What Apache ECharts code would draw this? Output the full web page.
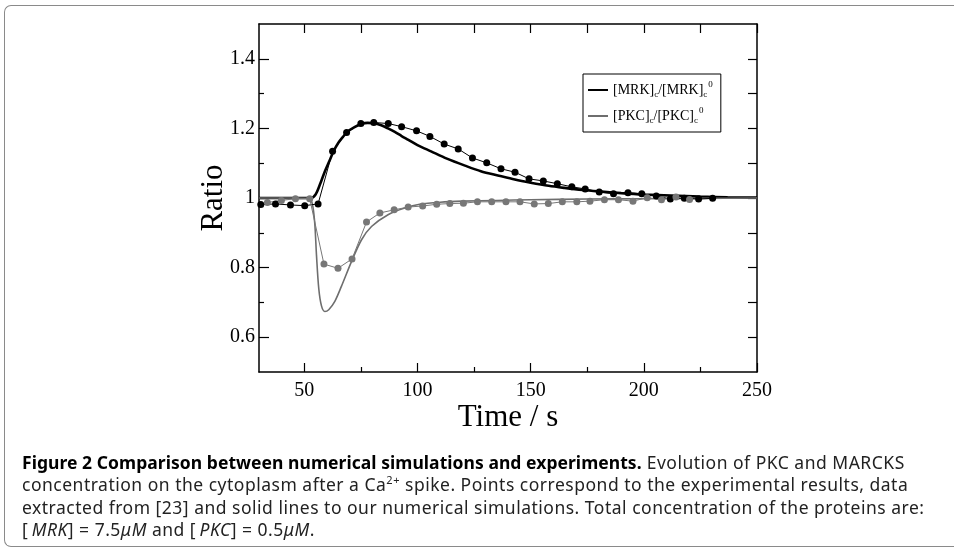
<!DOCTYPE html>
<html>
<head>
<meta charset="utf-8">
<script src="https://cdn.jsdelivr.net/npm/echarts@6/dist/echarts.min.js"></script>
<style>
html,body{margin:0;padding:0;background:#fff;overflow:hidden;}
#wrap{position:relative;width:954px;height:552px;overflow:hidden;}
#frame{position:absolute;left:4px;top:5px;width:1200px;height:542px;border:1.5px solid #8a8a8a;border-right:none;border-radius:7px 0 0 7px;box-sizing:border-box;}
#chart{position:absolute;left:0;top:0;width:954px;height:552px;}
#cap{position:absolute;left:22px;top:451px;width:930px;font-family:"Noto Sans",sans-serif;font-size:17.5px;letter-spacing:0.5px;line-height:22.3px;color:#222;white-space:nowrap;}
#cap b{color:#000;letter-spacing:0.05px;}
#cap sup{font-size:11px;line-height:0;vertical-align:7px;}
</style>
</head>
<body>
<div id="wrap">
<div id="frame"></div>
<div id="chart"></div>
<div id="cap"><b>Figure 2 Comparison between numerical simulations and experiments.</b> Evolution of PKC and MARCKS<br>concentration on the cytoplasm after a Ca<sup>2+</sup> spike. Points correspond to the experimental results, data<br>extracted from [23] and solid lines to our numerical simulations. Total concentration of the proteins are:<br>[&#8201;<i>MRK</i>] = 7.5<i>μM</i> and [&#8201;<i>PKC</i>] = 0.5<i>μM</i>.</div>
</div>
<script>
// ---- data ----
const mrkExpT = [30.8,37.3,43.9,50.2,56.1,62.5,68.7,75.0,80.7,87.1,93.0,99.6,105.5,111.8,118.0,124.3,130.6,136.9,143.1,149.3,155.6,161.8,168.2,174.1,180.3,186.6,193.0,199.1,205.5,211.7,217.9,224.2,230.4];
const mrkExpV = [0.981,0.983,0.980,0.978,0.983,1.134,1.188,1.214,1.217,1.214,1.205,1.193,1.177,1.155,1.141,1.115,1.101,1.084,1.074,1.055,1.049,1.041,1.032,1.026,1.017,1.012,1.015,1.012,1.006,0.997,0.999,0.997,0.999];
const pkcExpT = [33.7,39.9,46.1,52.4,58.7,64.9,71.1,77.5,83.4,89.7,95.9,102.3,108.5,114.3,120.3,126.5,132.8,139.1,145.3,151.6,157.8,164.0,170.4,176.2,182.6,188.8,195.2,201.5,207.8,214.2,220.2];
const pkcExpV = [0.987,0.993,0.998,0.998,0.810,0.798,0.825,0.931,0.957,0.966,0.974,0.977,0.982,0.984,0.985,0.989,0.989,0.989,0.989,0.983,0.984,0.989,0.989,0.991,0.995,0.995,0.991,1.001,0.995,1.003,0.996];
const mrkSimT = [30,40,50,53,55,57,59,61,63,65,67,69,72,75,78,81,84,87,90,93,96,100,106,113,121,128,136,143,150,158,165,173,180,190,200,212,225,237,250];
const mrkSimV = [1.0,1.0,1.0,1.0,1.01,1.04,1.075,1.105,1.135,1.158,1.175,1.19,1.203,1.212,1.216,1.215,1.209,1.200,1.19,1.178,1.167,1.152,1.134,1.113,1.093,1.077,1.064,1.053,1.044,1.035,1.029,1.023,1.019,1.014,1.010,1.007,1.004,1.002,1.001];
const pkcSimT = [30,45,52,53.5,54.6,55.4,56.4,57.6,59.1,60.8,63.5,66.4,70.9,75.3,79.7,87,94.4,101,110,120,135,150,175,200,225,250];
const pkcSimV = [1.0,1.0,0.999,0.985,0.93,0.835,0.74,0.69,0.674,0.679,0.703,0.746,0.818,0.88,0.918,0.952,0.971,0.982,0.988,0.991,0.993,0.995,0.997,0.998,0.999,1.0];
const xMajor = [50,100,150,200,250];
const xMinor = [75,125,175,225];
const xTop = [50,75,100,125,150,175,200,225,250];
const yMajor = [0.6,0.8,1.0,1.2,1.4];
const yMinor = [0.7,0.9,1.1,1.3];
const yRight = [0.6,0.7,0.8,0.9,1.0,1.1,1.2,1.3,1.4];
const xRange = [30,250];
const yRange = [0.5,1.5];
const nameMrk = 'MRK';
const namePkc = 'PKC';

const zip = (a,b) => a.map((t,i)=>[t,b[i]]);
const serif = 'Liberation Serif';
const chart = echarts.init(document.getElementById('chart'), null, {renderer:'canvas'});
const lineCol = '#000';
const axisBase = (pos, ticks, len, showLine, labels) => ({
  type:'value', position:pos, min:xRange[0], max:xRange[1],
  axisLine:{show:showLine, onZero:false, lineStyle:{color:lineCol,width:1.5}},
  axisTick:{show:true, inside:true, length:len, customValues:ticks, lineStyle:{color:lineCol,width:1.2}},
  axisLabel: labels ? {show:true, customValues:ticks, color:'#000', fontFamily:serif, fontSize:20, margin:9} : {show:false},
  splitLine:{show:false}
});
const xAxes = [
  Object.assign(axisBase('bottom', xMajor, 9, true, true), {name:'Time / s', nameLocation:'middle', nameGap:30, nameMoveOverlap:false, nameTextStyle:{color:'#000', fontFamily:serif, fontSize:31}}),
  axisBase('bottom', xMinor, 5, false, false),
  axisBase('top', xTop, 9, true, false)
];
const yBase = (pos, ticks, len, showLine, labels) => ({
  type:'value', position:pos, min:yRange[0], max:yRange[1],
  axisLine:{show:showLine, onZero:false, lineStyle:{color:lineCol,width:1.5}},
  axisTick:{show:true, inside:true, length:len, customValues:ticks, lineStyle:{color:lineCol,width:1.2}},
  axisLabel: labels ? {show:true, customValues:ticks, color:'#000', fontFamily:serif, fontSize:20, margin:4} : {show:false},
  splitLine:{show:false}
});
const yAxes = [
  Object.assign(yBase('left', yMajor, 10, true, true), {name:'Ratio', nameLocation:'middle', nameGap:30, nameMoveOverlap:false, nameTextStyle:{color:'#000', fontFamily:serif, fontSize:31}}),
  yBase('left', yMinor, 5, false, false),
  yBase('right', yRight, 9, true, false)
];
chart.setOption({
  animation:false,
  grid:{left:259, top:24, right:197, bottom:180, containLabel:false},
  xAxis:xAxes,
  yAxis:yAxes,
  legend:{
    data:[{name:nameMrk, icon:'rect'}, {name:namePkc, icon:'rect'}],
    orient:'vertical', left:583, top:74,
    padding:[5,8,5,5], itemGap:4, itemWidth:20, itemHeight:2,
    borderColor:'#000', borderWidth:1, backgroundColor:'#fff', borderRadius:0,
    formatter: n => n===nameMrk ? '{n|[MRK]}{s|c}{n|/[MRK]}{s|c}{p|0}' : '{n|[PKC]}{s|c}{n|/[PKC]}{s|c}{p|0}',
    textStyle:{color:'#000', fontFamily:serif, fontSize:14,
      rich:{
        n:{fontFamily:serif, fontSize:14, color:'#000', lineHeight:22, verticalAlign:'middle'},
        s:{fontFamily:serif, fontSize:9, color:'#000', lineHeight:22, verticalAlign:'bottom', padding:[0,0,2,0]},
        p:{fontFamily:serif, fontSize:9, color:'#000', lineHeight:22, verticalAlign:'top', padding:[1,0,0,1]}
      }}
  },
  series:[
    {name:nameMrk, type:'line', data:zip(mrkSimT,mrkSimV), symbol:'none', smooth:0.3, lineStyle:{color:'#000', width:2.6}, itemStyle:{color:'#000'}, z:2},
    {name:namePkc, type:'line', data:zip(pkcSimT,pkcSimV), symbol:'none', smooth:0.3, lineStyle:{color:'#6e6e6e', width:1.6}, itemStyle:{color:'#6e6e6e'}, z:2},
    {name:'MRK exp', type:'line', data:zip(mrkExpT,mrkExpV), symbol:'circle', symbolSize:7, showAllSymbol:true, lineStyle:{color:'#000', width:1}, itemStyle:{color:'#000'}, z:3},
    {name:'PKC exp', type:'line', data:zip(pkcExpT,pkcExpV), symbol:'circle', symbolSize:7, showAllSymbol:true, lineStyle:{color:'#777', width:1}, itemStyle:{color:'#777'}, z:3}
  ]
});
</script>
</body>
</html>
